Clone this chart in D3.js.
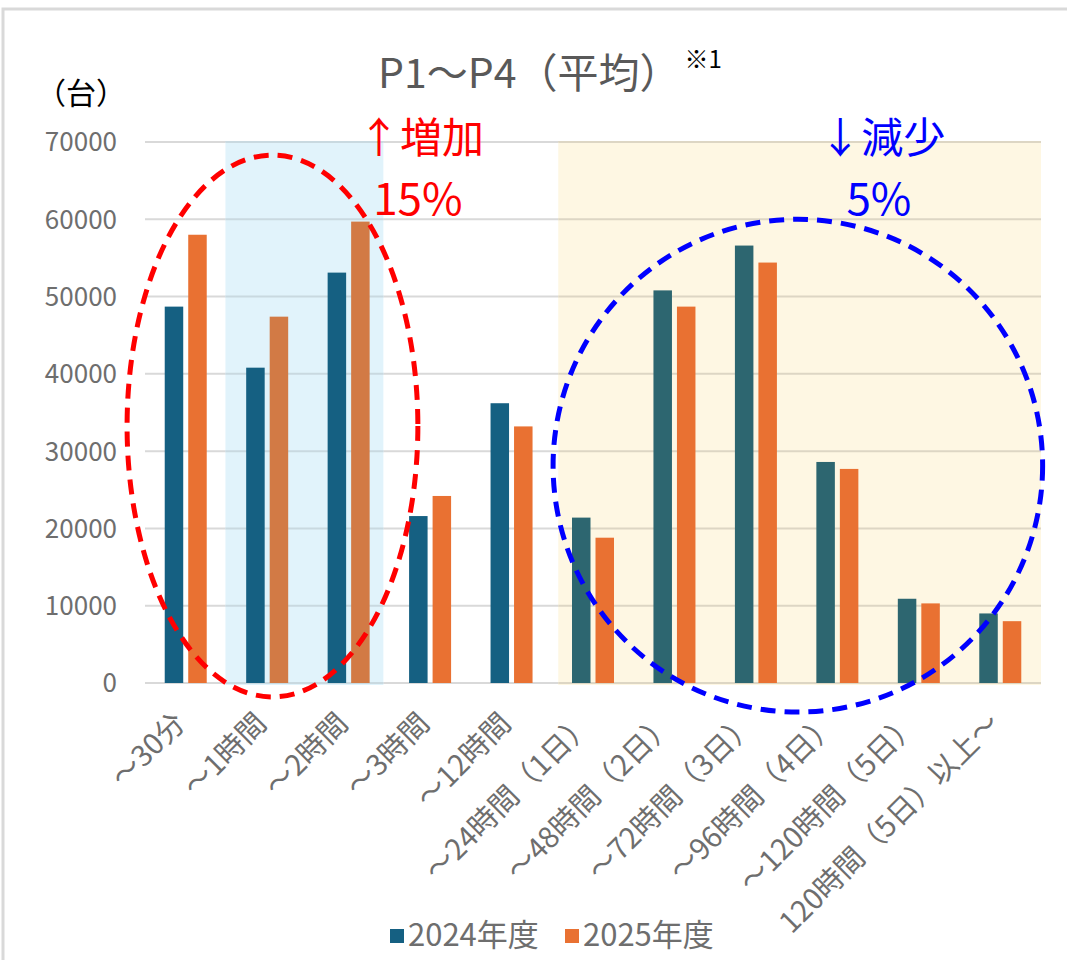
<!DOCTYPE html>
<html>
<head>
<meta charset="utf-8">
<script src="https://cdn.jsdelivr.net/npm/d3@7"></script>
<style>
  body { margin: 0; background: #fff; }
  text { font-family: "Noto Sans CJK JP", "Noto Sans", sans-serif; }
</style>
</head>
<body>
<div id="chart-area"></div>
<script>
const categories = ["～30分", "～1時間", "～2時間", "～3時間", "～12時間", "～24時間（1日）",
  "～48時間（2日）", "～72時間（3日）", "～96時間（4日）", "～120時間（5日）", "120時間（5日）以上～"]
const series = ["2024年度", "2025年度"]
const values2024 = [48700, 40800, 53100, 21600, 36200, 21400, 50800, 56600, 28600, 10900, 9000]
const values2025 = [58000, 47400, 59700, 24200, 33200, 18800, 48700, 54400, 27700, 10300, 8000]
const yTicks = [0, 10000, 20000, 30000, 40000, 50000, 60000, 70000]

// shaded groups of categories (first, last index)
const blueZone = [1, 2]
const yellowZone = [5, 10]

const w = 1067
const h = 960
const colors = ["#156082", "#E97132"]

const svg = d3.select("#chart-area")
  .append("svg")
  .attr("width", w)
  .attr("height", h)

// outer frame (top + left only visible)
svg.append("path")
  .attr("d", "M3,960 V9 H1067")
  .attr("fill", "none")
  .attr("stroke", "#D9D9D9")
  .attr("stroke-width", 3)

const x0 = d3.scaleBand()
  .domain(categories)
  .range([145, 1041])

const x1 = d3.scaleBand()
  .domain(series)
  .range([-21, 21])
  .paddingInner(0.213)

const y = d3.scaleLinear()
  .domain([0, 70000])
  .range([683, 142])

// position by fractional category index
const xi = (i) => x0(categories[0]) + (i + 0.5) * x0.step()

// gridlines
svg.append("g")
  .selectAll("line")
  .data(yTicks)
  .enter()
  .append("line")
  .attr("x1", x0.range()[0])
  .attr("x2", x0.range()[1])
  .attr("y1", (d) => y(d))
  .attr("y2", (d) => y(d))
  .attr("stroke", "#D9D9D9")
  .attr("stroke-width", 2)

// y tick labels
svg.append("g")
  .selectAll("text")
  .data(yTicks)
  .enter()
  .append("text")
  .attr("x", 117)
  .attr("y", (d) => y(d))
  .attr("dy", "0.36em")
  .attr("text-anchor", "end")
  .attr("font-size", 26)
  .attr("fill", "#6E6E6E")
  .text((d) => d)

// shaded zones (under bars)
svg.append("rect")
  .attr("x", x0(categories[blueZone[0]]) - 1)
  .attr("y", y(70000))
  .attr("width", x0(categories[blueZone[1]]) + x0.step() - x0(categories[blueZone[0]]) - 5)
  .attr("height", y(0) - y(70000) + 2)
  .attr("fill", "#E1F3FB")

svg.append("rect")
  .attr("x", x0(categories[yellowZone[0]]) + 6)
  .attr("y", y(70000))
  .attr("width", x0(categories[yellowZone[1]]) + x0.step() - x0(categories[yellowZone[0]]) - 6)
  .attr("height", y(0) - y(70000) + 2)
  .attr("fill", "#FEF7E3")

// gridlines again over zones, tinted
svg.append("g")
  .selectAll("line")
  .data(yTicks)
  .enter()
  .append("line")
  .attr("x1", x0(categories[yellowZone[0]]) + 6)
  .attr("x2", x0.range()[1])
  .attr("y1", (d) => y(d))
  .attr("y2", (d) => y(d))
  .attr("stroke", "#DDD6C4")
  .attr("stroke-width", 2)

svg.append("g")
  .selectAll("line")
  .data(yTicks)
  .enter()
  .append("line")
  .attr("x1", x0(categories[blueZone[0]]) - 1)
  .attr("x2", x0(categories[blueZone[1]]) + x0.step() - 6)
  .attr("y1", (d) => y(d))
  .attr("y2", (d) => y(d))
  .attr("stroke", "#C9D9E0")
  .attr("stroke-width", 2)

const zoneOf = (i) => {
  if (i >= blueZone[0] && i <= blueZone[1]) return "blue"
  if (i >= yellowZone[0] && i <= yellowZone[1]) return "yellow"
  return "none"
}
const barColor = (s, i) => {
  const z = zoneOf(i)
  if (s === 0) return z === "yellow" ? "#2D6670" : colors[0]
  return z === "blue" ? "#D27A45" : colors[1]
}

const rows = categories.map((c, i) => ({ cat: c, i: i, vals: [values2024[i], values2025[i]] }))

const group = svg.append("g")
  .selectAll("g")
  .data(rows)
  .enter()
  .append("g")
  .attr("transform", (d) => "translate(" + (x0(d.cat) + x0.bandwidth() / 2) + ",0)")

group.selectAll("rect")
  .data((d) => d.vals.map((v, s) => ({ v: v, s: s, i: d.i })))
  .enter()
  .append("rect")
  .attr("x", (d) => x1(series[d.s]))
  .attr("width", x1.bandwidth())
  .attr("y", (d) => y(d.v))
  .attr("height", (d) => y(0) - y(d.v))
  .attr("fill", (d) => barColor(d.s, d.i))

// x labels, rotated
svg.append("g")
  .selectAll("text")
  .data(categories)
  .enter()
  .append("text")
  .attr("transform", (d) => "translate(" + (x0(d) + x0.bandwidth() / 2 - 6) + ",718) rotate(-45)")
  .attr("text-anchor", "end")
  .attr("dy", "0.35em")
  .attr("font-size", 29)
  .attr("fill", "#6E6E6E")
  .text((d) => d)

// title
const title = svg.append("text")
  .attr("x", 378)
  .attr("y", 88)
  .attr("font-size", 41)
  .attr("fill", "#595959")
title.append("tspan").text("P1～P4（平均）")
title.append("tspan")
  .attr("font-size", 24)
  .attr("fill", "#000")
  .attr("dx", 4)
  .attr("dy", -20)
  .text("※1")

svg.append("text")
  .attr("x", 36)
  .attr("y", 104)
  .attr("font-size", 30)
  .attr("fill", "#000")
  .text("（台）")

// annotations
svg.append("ellipse")
  .attr("cx", (xi(-0.72) + xi(2.85)) / 2)
  .attr("cy", (y(68300) + y(-1800)) / 2)
  .attr("rx", (xi(2.85) - xi(-0.72)) / 2)
  .attr("ry", (y(-1800) - y(68300)) / 2)
  .attr("fill", "none")
  .attr("stroke", "#FF0000")
  .attr("stroke-width", 5)
  .attr("stroke-dasharray", "15,9")

svg.append("ellipse")
  .attr("cx", (xi(4.51) + xi(10.52)) / 2)
  .attr("cy", (y(60000) + y(-3760)) / 2)
  .attr("rx", (xi(10.52) - xi(4.51)) / 2)
  .attr("ry", (y(-3760) - y(60000)) / 2)
  .attr("fill", "none")
  .attr("stroke", "#0000FF")
  .attr("stroke-width", 5)
  .attr("stroke-dasharray", "15,9")

const notes = [
  { t: "↑増加", p: "15%", i: 2.89, c: "#FF0000" },
  { t: "↓減少", p: "5%", i: 8.55, c: "#0000FF" }
]
const note = svg.append("g")
  .selectAll("text")
  .data(notes)
  .enter()
  .append("text")
  .attr("y", y(68600))
  .attr("text-anchor", "middle")
  .attr("fill", (d) => d.c)

note.append("tspan")
  .attr("x", (d) => xi(d.i))
  .attr("font-size", 42)
  .text((d) => d.t)

note.append("tspan")
  .attr("x", (d) => xi(d.i - 0.04))
  .attr("y", y(60500))
  .attr("font-size", 44)
  .text((d) => d.p)

// legend
const legend = svg.append("g")
  .selectAll("g")
  .data(series)
  .enter()
  .append("g")
  .attr("transform", (d, i) => "translate(" + (390 + i * 175) + ",929)")

legend.append("rect")
  .attr("width", 14)
  .attr("height", 14)
  .attr("fill", (d, i) => colors[i])

legend.append("text")
  .attr("x", 18)
  .attr("y", 17)
  .attr("font-size", 31)
  .attr("fill", "#6E6E6E")
  .text((d) => d)
</script>
</body>
</html>
